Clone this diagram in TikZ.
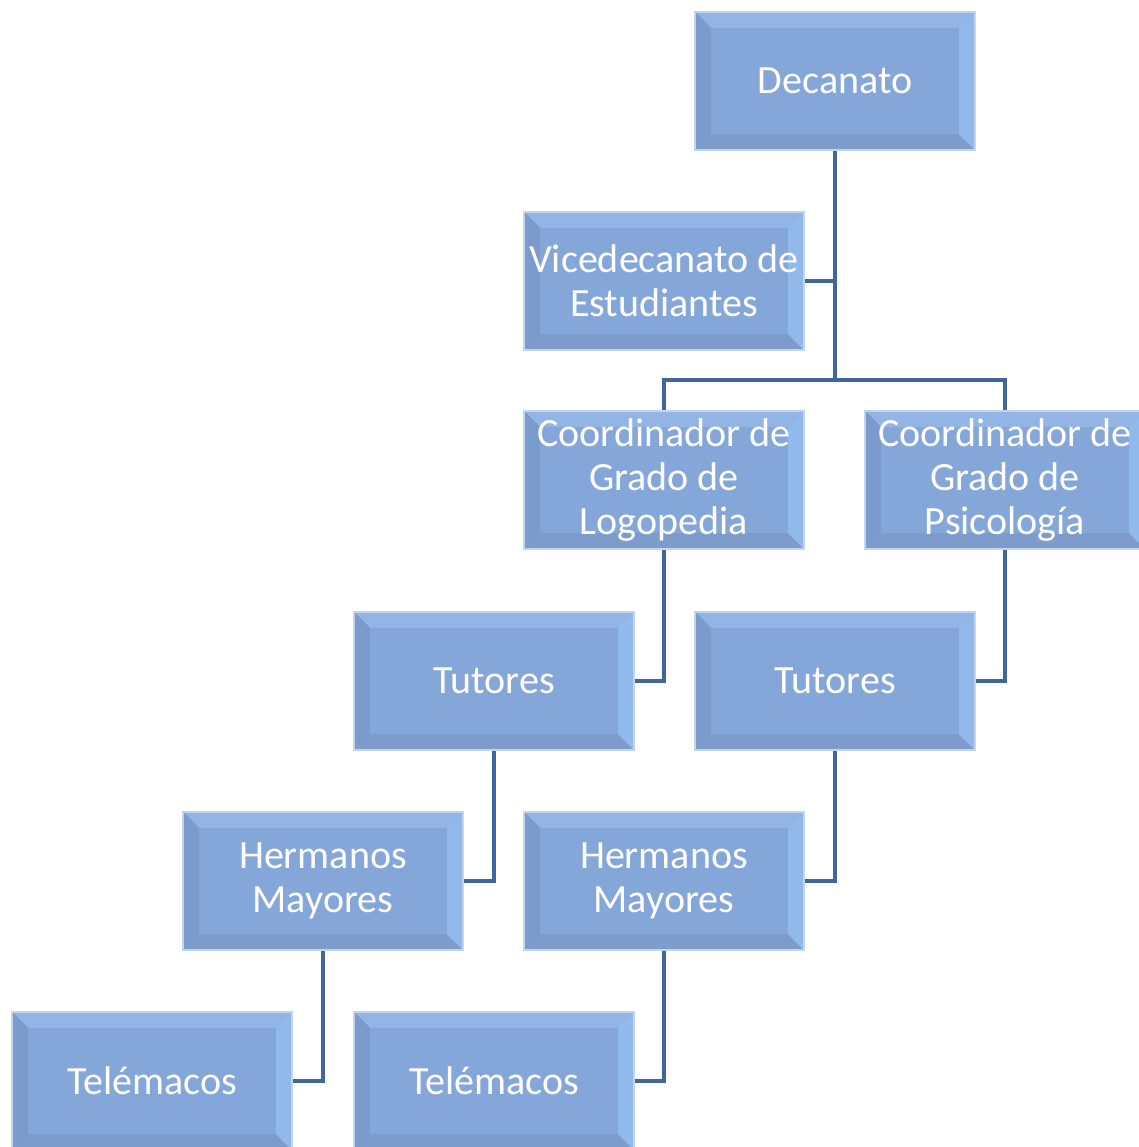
\documentclass[tikz,border=0pt]{standalone}
\usepackage{fontspec}
\setmainfont{Carlito}
\definecolor{boxblue}{HTML}{84A6D8}
\definecolor{bevtop}{HTML}{93B5E6}
\definecolor{bevright}{HTML}{92B9EC}
\definecolor{bevleft}{HTML}{7B9BCC}
\definecolor{bevbottom}{HTML}{7D9CCC}
\definecolor{rimblue}{HTML}{C3D5EE}
\definecolor{linkblue}{HTML}{41679A}
\newcommand\orgfont{\fontsize{22.8}{25}\selectfont}
\newcommand\bv{9pt}

\begin{document}
\begin{tikzpicture}[x=0.02cm,y=-0.02cm,
  orgbox/.style={draw=rimblue,line width=1.2pt,fill=boxblue,
    minimum width=5.6cm,minimum height=2.76cm,inner sep=0pt,
    align=center,text=white,font=\orgfont,
    path picture={
      \coordinate (sw) at (path picture bounding box.south west);
      \coordinate (ne) at (path picture bounding box.north east);
      \coordinate (nw) at (sw|-ne);
      \coordinate (se) at (ne|-sw);
      \fill[bevtop] (nw) -- (ne) -- ([shift={(-\bv,-\bv)}]ne) -- ([shift={(\bv,-\bv)}]nw) -- cycle;
      \fill[bevbottom] (sw) -- (se) -- ([shift={(-\bv,\bv)}]se) -- ([shift={(\bv,\bv)}]sw) -- cycle;
      \fill[bevleft] (sw) -- (nw) -- ([shift={(\bv,-\bv)}]nw) -- ([shift={(\bv,\bv)}]sw) -- cycle;
      \fill[bevright] (se) -- (ne) -- ([shift={(-\bv,-\bv)}]ne) -- ([shift={(-\bv,\bv)}]se) -- cycle;
    }},
  link/.style={draw=linkblue,line width=2.3pt}]
  \useasboundingbox (0,0) rectangle (1139,1147);

  \node[orgbox] (dec)  at (835,81)   {Decanato};
  \node[orgbox] (vice) at (664,281)  {Vicedecanato de\\Estudiantes};
  \node[orgbox] (coordL) at (664,480) {Coordinador de\\Grado de\\Logopedia};
  \node[orgbox] (coordP) at (1005,480) {Coordinador de\\Grado de\\Psicología};
  \node[orgbox] (tutL) at (494,681)  {Tutores};
  \node[orgbox] (tutP) at (835,681)  {Tutores};
  \node[orgbox] (herL) at (323,881)  {Hermanos\\Mayores};
  \node[orgbox] (herP) at (664,881)  {Hermanos\\Mayores};
  \node[orgbox] (telL) at (152,1081) {Telémacos};
  \node[orgbox] (telP) at (494,1081) {Telémacos};

  \coordinate (bus) at (835,380);
  \draw[link] (dec.south) -- (bus);
  \draw[link] (vice.east) -| (bus);
  \draw[link] (coordL.north) |- (bus) -| (coordP.north);
  \draw[link] (coordL.south) |- (tutL.east);
  \draw[link] (coordP.south) |- (tutP.east);
  \draw[link] (tutL.south) |- (herL.east);
  \draw[link] (tutP.south) |- (herP.east);
  \draw[link] (herL.south) |- (telL.east);
  \draw[link] (herP.south) |- (telP.east);
\end{tikzpicture}
\end{document}
